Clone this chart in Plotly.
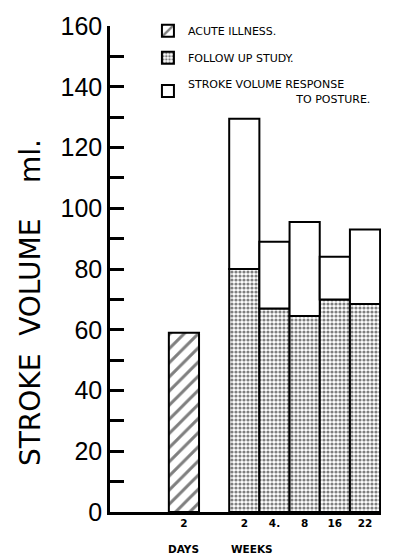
import plotly.graph_objects as go

# ---- data ----
acute_label = ["2"]            # days
acute_values = [59]
week_labels = ["2", "4.", "8", "16", "22"]   # weeks
follow_up_values = [80, 67, 64.5, 70, 68.5]
posture_response = [49.5, 22, 31, 14, 24.5]   # increment on top of follow-up
y_ticks = [0, 20, 40, 60, 80, 100, 120, 140, 160]

# positions computed from category order (gap of one slot between groups)
acute_x = list(range(len(acute_label)))
week_x = [len(acute_label) + 1 + i for i in range(len(week_labels))]

line = dict(color="black", width=2)
NB = "\u00a0"

fig = go.Figure()
fig.add_trace(go.Bar(
    x=acute_x, y=acute_values, width=1, name="ACUTE ILLNESS.",
    legendgroup="a",
    marker=dict(color="white", line=line,
                pattern=dict(shape="/", fgcolor="black", bgcolor="white",
                             size=10, solidity=0.3)),
))
fig.add_trace(go.Bar(
    x=week_x, y=follow_up_values, width=1, name="FOLLOW UP STUDY.",
    legendgroup="b",
    marker=dict(color="white", line=line,
                pattern=dict(shape=".", fgcolor="black", bgcolor="white",
                             size=4, solidity=0.5)),
))
fig.add_trace(go.Bar(
    x=week_x, y=posture_response, base=follow_up_values, width=1,
    name="STROKE VOLUME RESPONSE<br>" + NB * 31 + "TO POSTURE.",
    legendgroup="c",
    marker=dict(color="white", line=line),
))

fig.update_layout(
    width=400, height=555,
    margin=dict(l=110, r=19, t=20, b=43),
    paper_bgcolor="white", plot_bgcolor="white",
    barmode="overlay",
    showlegend=True,
    legend=dict(x=0.14, y=1.02, xanchor="left", yanchor="top",
                traceorder="grouped", tracegroupgap=8,
                font=dict(family="DejaVu Sans", size=11, color="black"),
                bgcolor="rgba(0,0,0,0)", borderwidth=0),
    font=dict(family="DejaVu Sans", color="black"),
)

fig.update_xaxes(
    range=[-2.45, 6.53],
    tickmode="array",
    tickvals=acute_x + week_x,
    ticktext=acute_label + week_labels,
    ticks="", showgrid=False, zeroline=False,
    showline=True, linecolor="black", linewidth=2.5,
    tickfont=dict(family="DejaVu Sans", size=10.5, color="black", weight="bold"),
)
fig.update_yaxes(
    range=[0, 160],
    tickmode="array", tickvals=y_ticks,
    ticks="inside", ticklen=14, tickwidth=2.5, tickcolor="black",
    minor=dict(dtick=10, ticks="inside", ticklen=14, tickwidth=2.5,
               tickcolor="black", showgrid=False),
    showgrid=False, zeroline=False,
    showline=True, linecolor="black", linewidth=2.5,
    tickfont=dict(family="Liberation Sans", size=25, color="black"),
)

fig.add_annotation(
    text="STROKE" + NB + " VOLUME" + NB * 3 + " ml.",
    xref="paper", yref="paper", x=-0.295, y=0.43,
    xanchor="center", yanchor="middle",
    textangle=-90, showarrow=False,
    font=dict(family="DejaVu Sans", size=28, color="black"),
)
fig.add_annotation(text="DAYS", xref="x", yref="paper", x=acute_x[0], y=0,
                   yshift=-45, showarrow=False,
                   font=dict(family="DejaVu Sans", size=10.5, color="black", weight="bold"))
fig.add_annotation(text="WEEKS", xref="x", yref="paper", x=week_x[0] + 0.25, y=0,
                   yshift=-45, showarrow=False,
                   font=dict(family="DejaVu Sans", size=10.5, color="black", weight="bold"))

fig.write_html("out.html", config={"displayModeBar": False},
               post_script="document.body.style.margin='0';document.body.style.overflow='hidden';")
